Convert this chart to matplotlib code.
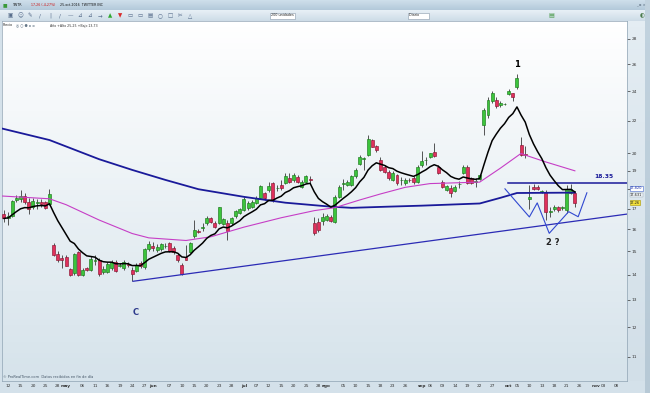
import numpy as np
import pandas as pd
import matplotlib
matplotlib.use("Agg")
import matplotlib.pyplot as plt
from matplotlib.colors import LinearSegmentedColormap
from matplotlib.ticker import FixedLocator, FixedFormatter, NullLocator

W, H = 650, 393
plt.rcParams['font.family'] = ['DejaVu Sans']

# ---------------- data ----------------
holidays = pd.to_datetime(["2016-05-30", "2016-07-04", "2016-09-05"])
all_days = pd.bdate_range("2016-04-11", "2016-11-08")
all_days = all_days[~all_days.isin(holidays)]

opens = [16.74, 16.55, 16.66, 17.44, 17.50, 17.62, 17.34, 17.10, 17.30, 17.35, 17.32, 17.22,
         15.28, 14.86, 14.72, 14.76, 14.22, 14.06, 14.95, 13.99, 14.29, 14.19, 14.57, 14.62,
         14.10, 14.13, 14.27, 14.52, 14.38, 14.27, 14.44, 14.19, 14.16, 14.50, 14.30, 15.08,
         15.25, 15.05, 15.08, 15.22, 15.36, 15.13, 14.83, 14.41, 14.75, 14.97, 15.70, 15.90,
         16.05, 16.30, 16.54, 16.30, 16.28, 16.25, 16.28, 16.30, 16.63, 16.80,
         16.93, 17.02, 17.10, 17.30, 17.54, 17.78, 17.94, 18.32, 18.05, 18.23, 18.32, 18.60,
         18.50, 18.65, 18.14, 18.41, 18.55,
         16.31, 16.36, 16.38, 16.45, 16.60, 16.36, 17.61, 18.28, 18.20, 18.23, 18.70, 19.39,
         19.70, 19.91, 20.80, 20.45, 19.62, 19.24, 18.96, 18.50, 18.77, 18.48, 18.32, 18.50,
         18.63, 18.40,
         19.33, 19.60, 19.81, 20.10, 19.24, 18.41, 17.96, 18.05, 17.92, 18.27, 18.90, 19.24,
         18.60, 18.40, 18.54,
         21.75, 22.39, 23.30, 23.43, 23.07, 23.12, 23.80, 23.87, 24.30,
         20.50, 19.95, 17.50, 18.14, 18.12, 17.86, 17.86, 16.85, 16.97, 17.10, 17.05, 16.93,
         17.80, 17.82]
highs = [16.93, 16.85, 17.44, 17.70, 17.96, 17.80, 17.54, 17.55, 17.50, 17.49, 17.39, 18.00,
         15.35, 15.00, 14.83, 14.82, 14.28, 14.92, 15.00, 14.28, 14.32, 14.79, 14.83, 14.70,
         14.36, 14.54, 14.60, 14.62, 14.50, 14.60, 14.52, 14.32, 14.50, 14.58, 15.15, 15.45,
         15.40, 15.33, 15.38, 15.35, 15.40, 15.23, 14.90, 14.48, 15.28, 15.40, 16.45, 16.00,
         16.30, 16.65, 16.60, 16.38, 17.10, 16.55, 16.44, 16.60, 16.95, 17.05,
         17.60, 17.40, 17.45, 17.62, 18.23, 17.85, 18.40, 18.40, 18.20, 18.50, 18.86, 18.86,
         18.90, 18.75, 18.50, 18.78, 18.70,
         16.60, 16.54, 16.77, 16.75, 16.70, 17.70, 18.23, 18.56, 18.50, 18.77, 19.16, 19.91,
         19.80, 21.12, 20.85, 20.50, 19.80, 19.35, 19.05, 19.00, 18.85, 18.65, 18.60, 18.60,
         18.70, 19.30,
         20.16, 19.81, 20.05, 20.64, 19.30, 18.50, 18.25, 18.23, 18.20, 18.45, 19.30, 19.30,
         18.65, 18.59, 18.85,
         22.88, 23.60, 24.03, 23.60, 23.30, 23.22, 24.20, 23.90, 25.25,
         21.00, 20.45, 18.23, 18.28, 18.20, 17.95, 17.96, 17.10, 17.20, 17.15, 17.12, 18.23,
         18.30, 17.90]
lows = [16.36, 16.20, 16.60, 17.35, 17.35, 17.25, 16.72, 17.00, 17.00, 17.10, 17.00, 17.19,
        14.80, 14.55, 14.27, 14.35, 13.95, 13.99, 13.95, 13.95, 14.15, 14.15, 14.41, 13.95,
        14.03, 14.07, 14.20, 14.11, 14.30, 14.20, 14.33, 13.73, 14.10, 14.28, 14.25, 15.02,
        15.00, 14.98, 15.02, 15.12, 14.97, 14.87, 14.55, 13.99, 14.60, 14.92, 15.60, 15.82,
        15.90, 16.20, 16.28, 16.08, 16.25, 16.20, 15.50, 16.20, 16.55, 16.75,
        16.90, 16.95, 17.05, 17.25, 17.48, 17.45, 17.87, 17.35, 17.90, 17.96, 18.28, 18.32,
        18.40, 18.35, 18.05, 18.35, 18.32,
        15.73, 15.88, 16.20, 16.38, 16.35, 16.31, 17.56, 17.96, 18.15, 18.18, 18.60, 19.33,
        19.05, 19.85, 20.35, 20.10, 19.00, 18.90, 18.50, 18.45, 18.20, 18.23, 18.25, 18.40,
        18.30, 18.35,
        19.24, 19.33, 19.75, 19.80, 18.80, 18.07, 17.90, 17.58, 17.85, 18.05, 18.85, 18.30,
        18.30, 18.14, 18.48,
        21.12, 22.20, 23.20, 22.85, 22.95, 23.05, 23.75, 23.35, 24.20,
        19.85, 19.72, 17.00, 17.96, 17.95, 17.80, 16.44, 16.60, 16.90, 16.85, 16.95, 16.80,
        17.75, 17.10]
closes = [16.52, 16.65, 17.39, 17.55, 17.62, 17.32, 17.00, 17.38, 17.32, 17.22, 17.05, 17.73,
          14.83, 14.62, 14.62, 14.38, 13.99, 14.86, 13.99, 14.19, 14.19, 14.65, 14.60, 14.03,
          14.24, 14.44, 14.52, 14.16, 14.42, 14.52, 14.42, 14.03, 14.41, 14.34, 15.08, 15.30,
          15.12, 15.20, 15.30, 15.25, 15.00, 14.97, 14.62, 14.03, 14.62, 15.37, 15.95, 15.88,
          16.10, 16.54, 16.33, 16.13, 17.06, 16.48, 15.90, 16.54, 16.86, 16.96,
          17.50, 17.29, 17.36, 17.54, 18.17, 17.53, 18.17, 17.44, 18.07, 18.05, 18.69, 18.36,
          18.77, 18.41, 18.41, 18.69, 18.48,
          15.83, 15.97, 16.60, 16.65, 16.41, 17.60, 18.13, 18.31, 18.41, 18.69, 19.05, 19.81,
          19.72, 20.85, 20.40, 20.20, 19.05, 18.96, 18.60, 18.90, 18.32, 18.50, 18.50, 18.48,
          18.40, 19.24,
          19.57, 19.63, 20.00, 19.85, 18.86, 18.14, 18.17, 17.78, 18.14, 18.30, 19.20, 18.35,
          18.35, 18.42, 18.77,
          22.72, 23.43, 23.87, 22.97, 23.20, 23.14, 24.05, 23.60, 24.95,
          19.91, 19.88, 17.58, 18.00, 18.00, 17.88, 16.85, 16.87, 17.10, 16.95, 17.06, 18.00,
          18.03, 17.26]

# medium moving average (magenta) and long moving average (blue), read at trading-day index
ma_mid_idx = [-1, 11, 15, 23, 31, 35, 44, 50, 58, 67, 75, 80, 86, 91, 97, 103, 115, 120, 125, 126, 131, 138]
ma_mid_val = [17.65, 17.5, 17.2, 16.44, 15.8, 15.6, 15.48, 15.65, 16.1, 16.55, 16.9, 17.05,
              17.44, 17.75, 18.1, 18.3, 18.38, 19.15, 20.0, 19.9, 19.5, 19.0]
ma_long_idx = [-1, 11, 23, 31, 39, 47, 58, 68, 79, 84, 93, 101, 115, 120, 124, 138]
ma_long_val = [21.55, 20.8, 19.66, 19.05, 18.5, 18.0, 17.6, 17.3, 17.1, 17.04, 17.1, 17.15,
               17.26, 17.55, 17.8, 17.82]

# drawings
trend_idx = [31.2, 150.6]
trend_val = [13.73, 16.73]
resist_level = 18.35
resist_idx = [121.8, 150.6]
pattern_idx = [121.1, 127.0, 128.9, 131.8, 136.5, 138.8, 140.9]
pattern_val = [18.02, 16.59, 17.29, 15.81, 16.85, 16.60, 17.81]

tick_dates = ["2016-04-12", "2016-04-15", "2016-04-20", "2016-04-25", "2016-04-28",
              "2016-05-02", "2016-05-06", "2016-05-11", "2016-05-16", "2016-05-19", "2016-05-24", "2016-05-27",
              "2016-06-01", "2016-06-07", "2016-06-10", "2016-06-15", "2016-06-20", "2016-06-23", "2016-06-28",
              "2016-07-01", "2016-07-07", "2016-07-12", "2016-07-15", "2016-07-20", "2016-07-25", "2016-07-28",
              "2016-08-01", "2016-08-05", "2016-08-10", "2016-08-15", "2016-08-18", "2016-08-23", "2016-08-26",
              "2016-09-01", "2016-09-06", "2016-09-09", "2016-09-14", "2016-09-19", "2016-09-22", "2016-09-27",
              "2016-10-03", "2016-10-05", "2016-10-10", "2016-10-13", "2016-10-18", "2016-10-21", "2016-10-26",
              "2016-11-01", "2016-11-03", "2016-11-08"]
tick_labels = ["12", "15", "20", "25", "28",
               "may", "06", "11", "16", "19", "24", "27",
               "jun", "07", "10", "15", "20", "23", "28",
               "jul", "07", "12", "15", "20", "25", "28",
               "ago", "05", "10", "15", "18", "23", "26",
               "sep", "06", "09", "14", "19", "22", "27",
               "oct", "05", "10", "13", "18", "21", "26",
               "nov", "03", "08"]
months = {"may", "jun", "jul", "ago", "sep", "oct", "nov"}
price_ticks = [11, 12, 13, 14, 15, 16, 17, 18, 19, 20, 22, 24, 26, 28]
price_tick_labels = ["11", "12", "13", "14", "15", "16", "17", "", "19", "20", "22", "24", "26", "28"]

# ---------------- figure ----------------
fig = plt.figure(figsize=(W / 100, H / 100), dpi=100)
fig.patch.set_facecolor('#d4e1ea')


def box(x0, y0, x1, y1):
    return [x0 / W, 1 - y1 / H, (x1 - x0) / W, (y1 - y0) / H]


def grad_axes(b, c_top, c_bot, z=0):
    a = fig.add_axes(box(*b), zorder=z)
    cmap = LinearSegmentedColormap.from_list('g', [c_top, c_bot])
    a.imshow(np.linspace(0, 1, 64).reshape(-1, 1), aspect='auto', cmap=cmap,
             extent=[0, 1, 0, 1], origin='upper')
    a.set_axis_off()
    return a


grad_axes((0, 0, 650, 10), '#cfdfeb', '#b3c9da', 0)
grad_axes((0, 10, 650, 21), '#e8f0f6', '#cddce7', 0)
grad_axes((2, 21, 627, 381), '#ffffff', '#d6e3eb', 1)
grad_axes((627, 21, 645, 381), '#e4edf3', '#d2dfe8', 1)
grad_axes((645, 0, 650, 393), '#c2d3df', '#b7c9d6', 1)

ax = fig.add_axes(box(2, 21, 627, 381), zorder=2)
ax.set_facecolor('none')
ax.set_yscale('log')
ax.set_xlim(-0.48, 150.6)
ax.set_ylim(10.24, 29.52)

idx = np.arange(len(closes))
o = np.array(opens); c = np.array(closes)
h = np.maximum(np.array(highs), np.maximum(o, c))
l = np.minimum(np.array(lows), np.minimum(o, c))
up = c >= o
lo = np.minimum(o, c); hi = np.maximum(o, c)

ax.vlines(idx, l, h, color='#3a3a3a', lw=0.6, zorder=3)
ax.bar(idx[up], (hi - lo)[up], bottom=lo[up], width=0.72, color='#3cc43c',
       edgecolor='#1d7a1d', lw=0.45, zorder=4)
ax.bar(idx[~up], (hi - lo)[~up], bottom=lo[~up], width=0.72, color='#e0305c',
       edgecolor='#8a1733', lw=0.45, zorder=4)

ema_fast = pd.Series(closes).ewm(span=10, adjust=False).mean()
ax.plot(ma_long_idx, ma_long_val, color='#1a1a9a', lw=1.3, zorder=5, solid_capstyle='round')
ax.plot(ma_mid_idx, ma_mid_val, color='#c63ec6', lw=0.8, zorder=5)
ax.plot(idx, ema_fast, color='black', lw=1.1, zorder=6)

ax.plot(trend_idx, trend_val, color='#2b2bb5', lw=0.9, zorder=5)
ax.plot(resist_idx, [resist_level, resist_level], color='#1a1a99', lw=1.1, zorder=5)
ax.plot(pattern_idx, pattern_val, color='#3048d0', lw=0.8, zorder=5)

ax.text(145, 18.66, f"{resist_level:.2f}", color='#1a1a99', fontsize=4.3,
        fontweight='bold', ha='center', va='center', zorder=7)
ax.text(124, 26.0, "1", color='black', fontsize=6, fontweight='bold', ha='center', va='center')
ax.text(132.7, 15.37, "2 ?", color='#222222', fontsize=6, fontweight='bold', ha='center', va='center')
ax.text(31.9, 12.54, "C", color='#2d3a8c', fontsize=6, fontweight='bold', ha='center', va='center')

# axes / ticks
pos_of = {d: i for i, d in enumerate(all_days)}
tick_pos = [pos_of[pd.Timestamp(d)] for d in tick_dates]
ax.set_xticks(tick_pos)
ax.set_xticklabels(tick_labels)
for t in ax.get_xticklabels():
    if t.get_text() in months:
        t.set_fontweight('bold')
ax.tick_params(axis='x', length=0, labelsize=3.1, pad=2.0, colors='#333333')

ax.yaxis.tick_right()
ax.yaxis.set_major_locator(FixedLocator(price_ticks))
ax.yaxis.set_major_formatter(FixedFormatter(price_tick_labels))
ax.yaxis.set_minor_locator(NullLocator())
ax.tick_params(axis='y', length=2, width=0.5, labelsize=3.1, pad=1.2, colors='#333333')
for s in ax.spines.values():
    s.set_color('#8fa3b3'); s.set_linewidth(0.5)

# right-hand value boxes
fig.text(630 / W, 1 - 188.3 / H, "17,820", fontsize=2.6, color='#2233aa', va='center', zorder=10,
         bbox=dict(boxstyle='square,pad=0.08', fc='white', ec='#4466cc', lw=0.4))
fig.text(630 / W, 1 - 194.8 / H, "17,631", fontsize=2.6, color='#222222', va='center', zorder=10,
         bbox=dict(boxstyle='square,pad=0.08', fc='#eef3f7', ec='#9aaab8', lw=0.3))
fig.text(630 / W, 1 - 202.5 / H, "17,26", fontsize=2.6, color='#222222', va='center', zorder=10,
         bbox=dict(boxstyle='square,pad=0.1', fc='#f4e23a', ec='#a89400', lw=0.4))

# title bar
fig.text(3 / W, 1 - 5 / H, "■", fontsize=3.5, color='#3b9a3b', va='center', zorder=10)
fig.text(13 / W, 1 - 5 / H, "TWTR", fontsize=2.3, color='#111111', va='center', zorder=10)
fig.text(31 / W, 1 - 5 / H, "17,26 (-4,27%)", fontsize=2.3, color='#cc1111', va='center', zorder=10)
fig.text(60 / W, 1 - 5 / H, "25-oct-2016  TWITTER INC", fontsize=2.3, color='#111111', va='center', zorder=10)
fig.text(646 / W, 1 - 4 / H, "_ ▫ ×", fontsize=2.6, color='#556677', ha='right', va='center', zorder=10)

# toolbar
icons = ["▣", "☺", "✎", "/", "|", "/", "—", "⊿", "⊿", "→", "▲", "▼", "▭", "▭", "▤", "○", "□", "✂", "△"]
icon_cols = ['#556b8a'] * len(icons)
icon_cols[10] = '#2ea82e'; icon_cols[11] = '#d82a2a'
for k, (g, col) in enumerate(zip(icons, icon_cols)):
    fig.text((10 + 10 * k) / W, 1 - 15.5 / H, g, fontsize=4, color=col, ha='center', va='center', zorder=10)
fig.text(271 / W, 1 - 15.5 / H, "200 unidades", fontsize=2.4, color='#222222', va='center', zorder=10,
         bbox=dict(boxstyle='square,pad=0.3', fc='white', ec='#8899aa', lw=0.4))
fig.text(409 / W, 1 - 15.5 / H, "Diario        ", fontsize=2.4, color='#222222', va='center', zorder=10,
         bbox=dict(boxstyle='square,pad=0.3', fc='white', ec='#8899aa', lw=0.4))
fig.text(548 / W, 1 - 15.5 / H, "▤", fontsize=4.5, color='#4a9a4a', va='center', zorder=10)
fig.text(642 / W, 1 - 15.5 / H, "◐", fontsize=4, color='#4a7a4a', ha='center', va='center', zorder=10)

# price panel header
fig.text(3 / W, 1 - 25.5 / H, "Precio", fontsize=2.4, color='#222222', va='center', zorder=10)
fig.text(16 / W, 1 - 25.5 / H, "◎ ○ ● ▫ ▫", fontsize=2.6, color='#667788', va='center', zorder=10)
fig.text(50 / W, 1 - 25.5 / H, "Año +Alto 25,25 +Bajo 13,73", fontsize=2.3, color='#333333', va='center', zorder=10)

# footer
fig.text(3 / W, 1 - 377.5 / H, "© ProRealTime.com  Datos recibidos en fin de día", fontsize=2.6,
         color='#445566', va='center', zorder=10)

fig.savefig("out.png", dpi=100, facecolor=fig.get_facecolor())
